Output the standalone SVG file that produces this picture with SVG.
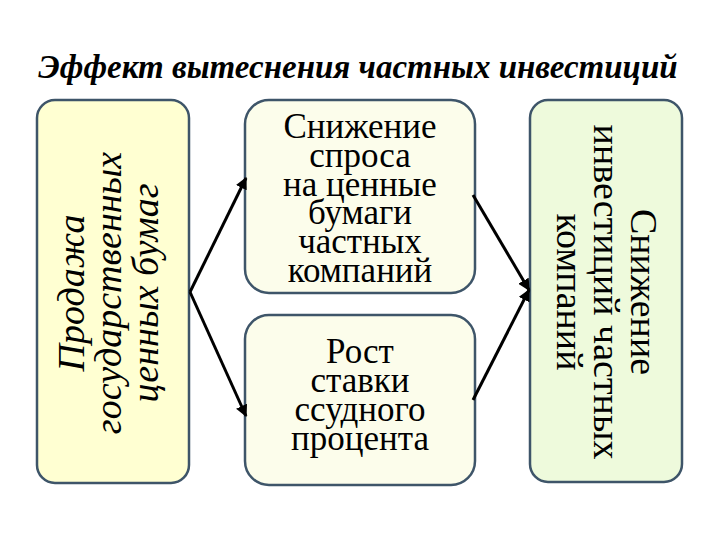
<svg xmlns="http://www.w3.org/2000/svg" width="720" height="540" viewBox="0 0 720 540">
<defs>
<marker id="ah" viewBox="0 0 10 10" refX="9" refY="5" markerWidth="4" markerHeight="4" orient="auto" markerUnits="strokeWidth">
<path d="M0,0 L10,5 L0,10 Z" fill="#000"/>
</marker>
<style>
text, tspan { font-family: 'Liberation Serif', 'Times New Roman', serif !important; }
.box { stroke: #3e5569; stroke-width: 2.5; }
.t { fill: #000; text-anchor: middle; }
</style>
</defs>
<rect width="720" height="540" fill="#fff"/>
<text class="t" x="358" y="78" font-family="Liberation Serif" font-size="33" font-weight="bold" font-style="italic">Эффект вытеснения частных инвестиций</text>
<g id="left">
<rect class="box" x="37" y="100" width="152" height="383" rx="18" fill="#ffffd2"/>
<g transform="translate(0,293) rotate(-90)">
<text class="t" x="0" y="84" font-family="Liberation Serif" font-size="38" font-style="italic">Продажа</text>
<text class="t" x="0" y="121" font-family="Liberation Serif" font-size="38" font-style="italic">государственных</text>
<text class="t" x="0" y="158" font-family="Liberation Serif" font-size="38" font-style="italic">ценных бумаг</text>
</g>
</g>
<g id="top">
<rect class="box" x="245" y="100" width="230" height="193" rx="24" fill="#fcfdeb"/>
<text class="t" x="360" y="138" font-family="Liberation Serif" font-size="35">Снижение</text>
<text class="t" x="360" y="167" font-family="Liberation Serif" font-size="35">спроса</text>
<text class="t" x="360" y="196" font-family="Liberation Serif" font-size="35">на ценные</text>
<text class="t" x="360" y="224" font-family="Liberation Serif" font-size="35">бумаги</text>
<text class="t" x="360" y="253" font-family="Liberation Serif" font-size="35">частных</text>
<text class="t" x="360" y="282" font-family="Liberation Serif" font-size="35">компаний</text>
</g>
<g id="bottom">
<rect class="box" x="245" y="315" width="230" height="170" rx="24" fill="#fcfdeb"/>
<text class="t" x="360" y="363" font-family="Liberation Serif" font-size="35">Рост</text>
<text class="t" x="360" y="392" font-family="Liberation Serif" font-size="35">ставки</text>
<text class="t" x="360" y="421" font-family="Liberation Serif" font-size="35">ссудного</text>
<text class="t" x="360" y="450" font-family="Liberation Serif" font-size="35">процента</text>
</g>
<g id="right">
<rect class="box" x="530" y="100" width="152" height="382" rx="18" fill="#eefadc"/>
<g transform="translate(0,292) rotate(90)">
<text class="t" x="0" y="-631" font-family="Liberation Serif" font-size="38">Снижение</text>
<text class="t" x="0" y="-594" font-family="Liberation Serif" font-size="38">инвестиций частных</text>
<text class="t" x="0" y="-557" font-family="Liberation Serif" font-size="38">компаний</text>
</g>
</g>
<g id="connectors" stroke="#000" stroke-width="3" fill="none" marker-end="url(#ah)">
<path d="M190,292 L246,178"/>
<path d="M190,292 L246,416"/>
<path d="M473,195 L529,290"/>
<path d="M473,400 L529,290"/>
</g>
</svg>
